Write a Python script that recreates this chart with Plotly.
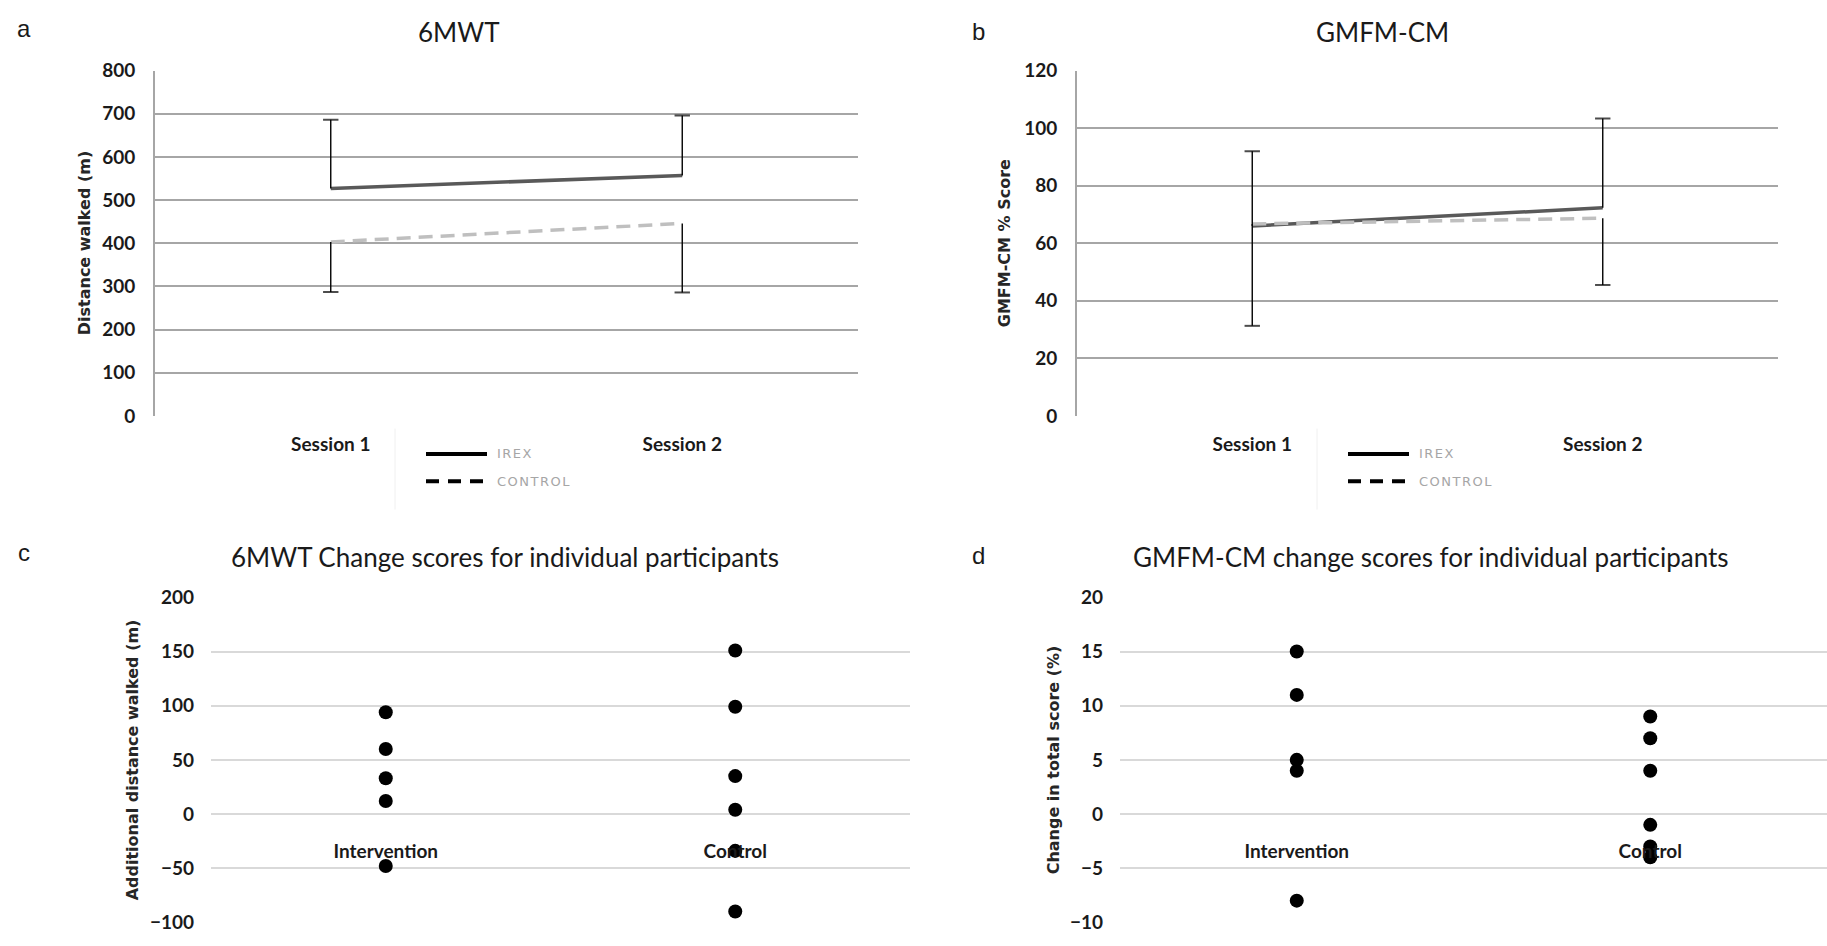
import plotly.graph_objects as go

W, H = 1827, 946

# ---------------- data ----------------
sessions = ["Session 1", "Session 2"]
irex_6mwt = [527, 557]
irex_6mwt_err = [159, 139]
control_6mwt = [403, 446]
control_6mwt_err = [116, 160]

irex_gmfm = [66.0, 72.3]
irex_gmfm_err = [26.0, 31.0]
control_gmfm = [66.7, 68.7]
control_gmfm_err = [35.4, 23.2]

groups = ["Intervention", "Control"]
mwt_intervention = [94, 60, 33, 12, -48]
mwt_control = [151, 99, 35, 4, -34, -90]
gmfm_intervention = [15, 11, 5, 4, -8]
gmfm_control = [9, 7, 4, -1, -3, -4]

# ---------------- helpers ----------------
def px(x):
    return x / W

def py(y):
    return 1 - y / H

def xdom(l, r):
    return [px(l), px(r)]

def ydom(t, b):
    return [py(b), py(t)]

TICKFONT = dict(family="Lato", size=19, color="#1a1a1a", weight="bold")
TITLEFONT = dict(family="Lato", size=26, color="#1a1a1a")
AXTITLEFONT = dict(family="DejaVu Sans", size=16, color="#262626", weight="bold")
LETTERFONT = dict(family="Liberation Sans", size=24, color="#1a1a1a")

fig = go.Figure()

# domains
dom = {
    "a": (xdom(155, 858), ydom(60, 414)),
    "b": (xdom(1077, 1778), ydom(60, 414)),
    "c": (xdom(211, 910), ydom(600, 933)),
    "d": (xdom(1120, 1827), ydom(600, 933)),
}
axmap = {"a": ("x", "y"), "b": ("x2", "y2"), "c": ("x3", "y3"), "d": ("x4", "y4")}


def add_line_panel(key, irex, irex_err, ctl, ctl_err):
    xa, ya = axmap[key]
    fig.add_trace(go.Scatter(x=sessions, y=irex, mode="lines", xaxis=xa, yaxis=ya,
                             line=dict(color="#595959", width=3.5), showlegend=False,
                             name="IREX"))
    fig.add_trace(go.Scatter(x=sessions, y=ctl, mode="lines", xaxis=xa, yaxis=ya,
                             line=dict(color="#BFBFBF", width=3.5, dash="14px,8px"),
                             showlegend=False, name="CONTROL"))
    for i, s in enumerate(sessions):
        # IREX upper error bar
        fig.add_trace(go.Scatter(
            x=[s, s], y=[irex[i], irex[i] + irex_err[i]], mode="lines+markers",
            xaxis=xa, yaxis=ya, showlegend=False, hoverinfo="skip",
            line=dict(color="black", width=1.4),
            marker=dict(symbol="line-ew-open", size=[0, 11], color="black",
                        line=dict(width=2, color="black"))))
        # CONTROL lower error bar
        fig.add_trace(go.Scatter(
            x=[s, s], y=[ctl[i], ctl[i] - ctl_err[i]], mode="lines+markers",
            xaxis=xa, yaxis=ya, showlegend=False, hoverinfo="skip",
            line=dict(color="black", width=1.4),
            marker=dict(symbol="line-ew-open", size=[0, 11], color="black",
                        line=dict(width=2, color="black"))))


def add_dot_panel(key, inter, ctl):
    xa, ya = axmap[key]
    fig.add_trace(go.Scatter(x=[groups[0]] * len(inter), y=inter, mode="markers",
                             xaxis=xa, yaxis=ya, showlegend=False,
                             marker=dict(color="black", size=14)))
    fig.add_trace(go.Scatter(x=[groups[1]] * len(ctl), y=ctl, mode="markers",
                             xaxis=xa, yaxis=ya, showlegend=False,
                             marker=dict(color="black", size=14)))


add_line_panel("a", irex_6mwt, irex_6mwt_err, control_6mwt, control_6mwt_err)
add_line_panel("b", irex_gmfm, irex_gmfm_err, control_gmfm, control_gmfm_err)
add_dot_panel("c", mwt_intervention, mwt_control)
add_dot_panel("d", gmfm_intervention, gmfm_control)

layout = dict(
    width=W, height=H, margin=dict(l=0, r=0, t=0, b=0),
    paper_bgcolor="white", plot_bgcolor="white", showlegend=False,
)

yranges = {"a": ([0, 800], 100), "b": ([0, 120], 20), "c": ([-100, 200], 50), "d": ([-10, 20], 5)}

for key in "abcd":
    xa, ya = axmap[key]
    xname = "xaxis" if xa == "x" else "xaxis" + xa[1:]
    yname = "yaxis" if ya == "y" else "yaxis" + ya[1:]
    xd, yd = dom[key]
    yr, dt = yranges[key]
    cats = sessions if key in "ab" else groups
    if key in "ab":
        layout[yname] = dict(domain=yd, anchor=xa, range=yr, dtick=dt, tick0=0,
                             showgrid=True, gridcolor="#A6A6A6", gridwidth=2,
                             showline=True, linecolor="#A6A6A6", linewidth=2,
                             zeroline=False, ticks="", tickfont=TICKFONT,
                             ticklabelstandoff=14, fixedrange=True)
        layout[xname] = dict(domain=xd, anchor=ya, type="category",
                             categoryorder="array", categoryarray=cats,
                             range=[-0.5, 1.5], showgrid=False, showline=False,
                             zeroline=False, ticks="", tickfont=TICKFONT,
                             ticklabelstandoff=15, fixedrange=True)
    else:
        pos = yd[0] + (0 - yr[0]) / (yr[1] - yr[0]) * (yd[1] - yd[0])
        layout[yname] = dict(domain=yd, anchor=xa, range=yr, dtick=dt, tick0=0,
                             showgrid=True, gridcolor="#D9D9D9", gridwidth=2,
                             showline=False, zeroline=False, ticks="",
                             tickfont=TICKFONT, ticklabelstandoff=16, fixedrange=True)
        layout[xname] = dict(domain=xd, anchor="free", position=pos, type="category",
                             categoryorder="array", categoryarray=cats,
                             range=[-0.5, 1.5], showgrid=False, showline=False,
                             zeroline=False, ticks="", tickfont=TICKFONT,
                             ticklabelstandoff=24, fixedrange=True)

annotations = []

def ann(text, x, y, font, angle=0, xanchor="center"):
    annotations.append(dict(text=text, x=px(x), y=py(y), xref="paper", yref="paper",
                            showarrow=False, font=font, textangle=angle,
                            xanchor=xanchor, yanchor="middle"))

# panel letters
ann("a", 24, 17, LETTERFONT)
ann("b", 978, 20, LETTERFONT)
ann("c", 24, 554, LETTERFONT)
ann("d", 978, 557, LETTERFONT)
# titles
ann("6MWT", 459, 20, TITLEFONT)
ann("GMFM-CM", 1382, 20, TITLEFONT)
ann("6MWT Change scores for individual participants", 505, 559, TITLEFONT)
ann("GMFM-CM change scores for individual participants", 1431, 559, TITLEFONT)
# axis titles
ann("Distance walked (m)", 84, 237, AXTITLEFONT, -90)
ann("GMFM-CM % Score", 1004, 237, AXTITLEFONT, -90)
ann("Additional distance walked (m)", 132, 767, AXTITLEFONT, -90)
ann("Change in total score (%)", 1053, 767, AXTITLEFONT, -90)

# manual legends
shapes = []
LEGFONT = dict(family="DejaVu Sans", size=13, color="#A6A6A6")
for off in (0, 922):
    shapes.append(dict(type="line", xref="paper", yref="paper",
                       x0=px(395 + off), x1=px(395 + off), y0=py(427), y1=py(510),
                       line=dict(color="#F0F0F0", width=1)))
    shapes.append(dict(type="line", xref="paper", yref="paper",
                       x0=px(426 + off), x1=px(487 + off), y0=py(453), y1=py(453),
                       line=dict(color="black", width=4)))
    shapes.append(dict(type="line", xref="paper", yref="paper",
                       x0=px(426 + off), x1=px(487 + off), y0=py(481), y1=py(481),
                       line=dict(color="black", width=4, dash="13px,9px")))
    ann('<span style="letter-spacing:1.5px">IREX</span>', 495 + off, 453, LEGFONT, xanchor="left")
    ann('<span style="letter-spacing:1.5px">CONTROL</span>', 495 + off, 481, LEGFONT, xanchor="left")

layout["annotations"] = annotations
layout["shapes"] = shapes
fig.update_layout(**layout)

fig.write_html("out.html")
